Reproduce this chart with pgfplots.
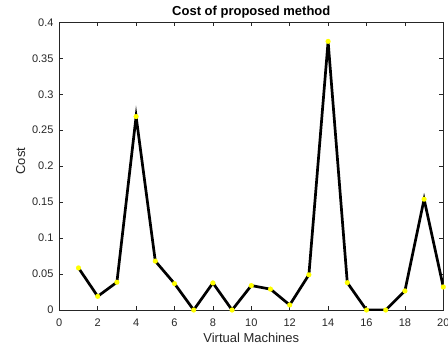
\documentclass[border=0pt]{standalone}
\usepackage{pgfplots}
\pgfplotsset{compat=1.18}
\usepackage{fontspec}
\setmainfont{Liberation Sans}
\definecolor{axgray}{RGB}{38,38,38}
\definecolor{myyellow}{RGB}{255,255,0}
\begin{document}
\begin{tikzpicture}
\begin{axis}[
  scale only axis,
  width=384pt, height=287.7pt,
  xmin=0, xmax=20, ymin=0, ymax=0.4,
  xtick={0,2,...,20},
  ytick={0,0.05,0.1,0.15,0.2,0.25,0.3,0.35,0.4},
  yticklabels={0,0.05,0.1,0.15,0.2,0.25,0.3,0.35,0.4},
  tick align=inside,
  major tick length=4pt,
  axis line style={axgray, line width=0.7pt},
  every tick/.style={axgray, line width=0.7pt},
  tick label style={font=\fontsize{11}{13}\selectfont, text=axgray},
  xticklabel style={anchor=center, yshift=-13pt},
  yticklabel style={anchor=east, xshift=-2.3pt},
  /pgf/number format/assume math mode=true,
  xlabel={Virtual Machines},
  ylabel={Cost},
  label style={font=\fontsize{13}{15}\selectfont, text=axgray},
  xlabel style={at={(rel axis cs:0.5,0)}, anchor=center, yshift=-28pt},
  ylabel style={at={(rel axis cs:0,0.5)}, anchor=center, xshift=5pt, yshift=38.6pt},
  title={Cost of proposed method},
  title style={font=\bfseries\fontsize{13}{15}\selectfont, at={(rel axis cs:0.5,1)}, anchor=center, yshift=4pt},
]
\addplot[black, line width=2.7pt, line join=miter, mark=*, mark size=2.5pt,
  mark options={fill=myyellow, draw=myyellow, line width=0.01pt}]
coordinates {
(1,0.0585) (2,0.019) (3,0.0386) (4,0.269) (5,0.068) (6,0.0367) (7,0)
(8,0.0376) (9,0) (10,0.034) (11,0.029) (12,0.007) (13,0.049) (14,0.3735)
(15,0.038) (16,0) (17,0) (18,0.0265) (19,0.154) (20,0.032)
};
\end{axis}
\pgfresetboundingbox
\path (current axis.south west) ++(-59.3pt,-39pt) rectangle ++(448pt,349pt);
\end{tikzpicture}
\end{document}
